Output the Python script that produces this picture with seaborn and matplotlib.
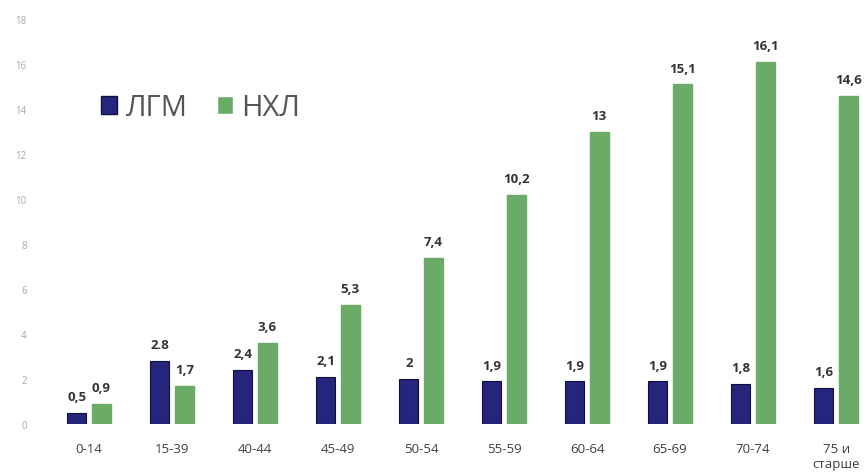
import matplotlib
matplotlib.use("Agg")
import matplotlib.pyplot as plt
from matplotlib.patches import Patch
import seaborn as sns
import pandas as pd

# Age groups and rates for the two series
age_groups = ["0-14", "15-39", "40-44", "45-49", "50-54",
              "55-59", "60-64", "65-69", "70-74", "75 и\nстарше"]
lgm_values = [0.5, 2.8, 2.4, 2.1, 2.0, 1.9, 1.9, 1.9, 1.8, 1.6]
nhl_values = [0.9, 1.7, 3.6, 5.3, 7.4, 10.2, 13.0, 15.1, 16.1, 14.6]
lgm_labels = ["0,5", "2.8", "2,4", "2,1", "2", "1,9", "1,9", "1,9", "1,8", "1,6"]
nhl_labels = ["0,9", "1,7", "3,6", "5,3", "7,4", "10,2", "13", "15,1", "16,1", "14,6"]
series_names = ["ЛГМ", "НХЛ"]
y_ticks = [0, 2, 4, 6, 8, 10, 12, 14, 16, 18]

BLUE = "#25257d"
GREEN = "#6aab68"

df = pd.DataFrame({
    "group": age_groups * 2,
    "series": [series_names[0]] * len(age_groups) + [series_names[1]] * len(age_groups),
    "value": lgm_values + nhl_values,
})

sns.set_style("white")
plt.rcParams["font.family"] = ["Open Sans", "DejaVu Sans"]

fig = plt.figure(figsize=(8.66, 4.77), dpi=100)
ax = fig.add_axes([35 / 866, 52 / 477, 831 / 866, 405 / 477])

sns.barplot(data=df, x="group", y="value", hue="series", order=age_groups,
            hue_order=series_names, palette=[BLUE, GREEN], width=0.59, gap=0.22,
            dodge=True, legend=False, ax=ax, saturation=1)

blue_bars, green_bars = ax.containers[0], ax.containers[1]
for p in blue_bars:
    p.set_edgecolor("#10103a")
    p.set_linewidth(0.8)
    p.set_zorder(2)
for p in green_bars:
    p.set_edgecolor(GREEN)
    p.set_zorder(4)

for t in ax.bar_label(blue_bars, labels=lgm_labels, padding=7, fontsize=9.5,
                      color="#333333", fontweight="bold"):
    t.set_zorder(3)
for t in ax.bar_label(green_bars, labels=nhl_labels, padding=7, fontsize=9.5,
                      color="#333333", fontweight="bold"):
    t.set_zorder(5)

ax.set_xlim(-0.65, 9.36)
ax.set_ylim(0, 18)
ax.set_yticks(y_ticks)
ax.set_yticklabels([str(v) for v in y_ticks], fontsize=7, color="#a8a8a8")
ax.tick_params(axis="y", length=0, pad=6)
ax.tick_params(axis="x", length=0, pad=13, labelsize=9.5, labelcolor="#404040")
ax.set_xlabel("")
ax.set_ylabel("")
sns.despine(ax=ax, left=True, bottom=True)

handles = [Patch(facecolor=BLUE, edgecolor="#10103a"), Patch(facecolor=GREEN)]
fig.legend(handles, series_names, loc="center left", bbox_to_anchor=(0.086, 0.772),
           ncol=2, frameon=False, fontsize=21, handlelength=0.55, handleheight=0.55,
           handletextpad=0.3, columnspacing=1.0, labelcolor="#555555")

fig.savefig("out.png", dpi=100)
